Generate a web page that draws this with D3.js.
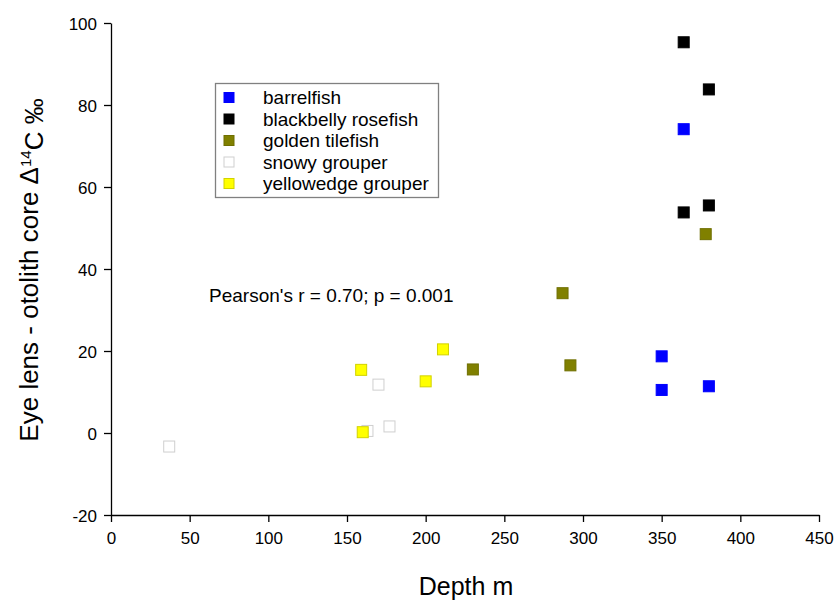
<!DOCTYPE html>
<html>
<head>
<meta charset="utf-8">
<script src="https://cdn.jsdelivr.net/npm/d3@7"></script>
<style>
  html, body { margin: 0; padding: 0; background: #fff; }
  svg { display: block; font-family: "Liberation Sans", Arial, sans-serif; }
</style>
</head>
<body>
<svg id="chart" width="834" height="600"></svg>
<script>
// ---- Data ----
const seriesNames = ["barrelfish", "blackbelly rosefish", "golden tilefish", "snowy grouper", "yellowedge grouper"];
const barrelfishDepth = [364, 350, 350, 380];
const barrelfishDelta = [74.1, 18.7, 10.5, 11.4];
const blackbellyDepth = [364, 380, 364, 380];
const blackbellyDelta = [95.3, 83.8, 53.8, 55.5];
const tilefishDepth = [378, 287, 292, 230];
const tilefishDelta = [48.5, 34.1, 16.5, 15.5];
const snowyDepth = [37, 170, 163, 177];
const snowyDelta = [-3.3, 11.8, 0.5, 1.6];
const yellowedgeDepth = [211, 159, 200, 160];
const yellowedgeDelta = [20.4, 15.4, 12.6, 0.2];
const xTicks = [0, 50, 100, 150, 200, 250, 300, 350, 400, 450];
const yTicks = [-20, 0, 20, 40, 60, 80, 100];
const annotation = "Pearson's r = 0.70; p = 0.001";

const fills = ["#0000ff", "#000000", "#808000", "#ffffff", "#ffff00"];
const strokes = ["#0000ff", "#000000", "#6f6f00", "#cfcfcf", "#d2d200"];

const series = [
  [barrelfishDepth, barrelfishDelta],
  [blackbellyDepth, blackbellyDelta],
  [tilefishDepth, tilefishDelta],
  [snowyDepth, snowyDelta],
  [yellowedgeDepth, yellowedgeDelta]
].map((s, i) => ({ name: seriesNames[i], fill: fills[i], stroke: strokes[i],
  pts: s[0].map((d, j) => ({ x: d, y: s[1][j] })) }));

// ---- Layout ----
const svg = d3.select("#chart");
const x = d3.scaleLinear().domain([0, 450]).range([111, 819]);
const y = d3.scaleLinear().domain([-20, 100]).range([515, 23]);

// axes
const fmt = d => String(d);
const xAxis = svg.append("g").attr("transform", "translate(0,515)")
  .call(d3.axisBottom(x).tickValues(xTicks).tickFormat(fmt).tickSize(7).tickSizeOuter(0).tickPadding(10));
const yAxis = svg.append("g").attr("transform", "translate(111,0)")
  .call(d3.axisLeft(y).tickValues(yTicks).tickFormat(fmt).tickSize(7).tickSizeOuter(0).tickPadding(7));
[xAxis, yAxis].forEach(g => {
  g.selectAll("path.domain").attr("stroke", "#000").attr("stroke-width", 1.3);
  g.selectAll(".tick line").attr("stroke", "#000").attr("stroke-width", 1.3);
  g.selectAll(".tick text").attr("fill", "#000")
    .style("font-family", "'Liberation Sans', Arial, sans-serif").style("font-size", "17px");
});
yAxis.selectAll(".tick text").attr("dy", "0.36em");

// axis titles
svg.append("text").attr("x", 466).attr("y", 595).attr("text-anchor", "middle")
  .style("font-size", "25px").text("Depth m");

const yt = svg.append("text").attr("transform", "translate(38,270) rotate(-90)")
  .attr("text-anchor", "middle").style("font-size", "26px");
yt.append("tspan").text("Eye lens - otolith core \u0394");
yt.append("tspan").attr("dy", "-0.45em").style("font-size", "15px").text("14");
yt.append("tspan").attr("dy", "0.45em").text("C \u2030");

// points
const ms = 11;
series.forEach(s => {
  svg.append("g").selectAll("rect").data(s.pts).join("rect")
    .attr("x", d => x(d.x) - ms / 2).attr("y", d => y(d.y) - ms / 2)
    .attr("width", ms).attr("height", ms)
    .attr("fill", s.fill).attr("stroke", s.stroke).attr("stroke-width", 1);
});

// annotation
svg.append("text").attr("x", 209).attr("y", 302).style("font-size", "19px").text(annotation);

// legend
const lg = svg.append("g");
lg.append("rect").attr("x", 215.5).attr("y", 83.5).attr("width", 223).attr("height", 114)
  .attr("fill", "#fff").attr("stroke", "#808080").attr("stroke-width", 1.3);
const rowY = d3.scaleLinear().domain([0, 4]).range([97.5, 183.5]);
series.forEach((s, i) => {
  lg.append("rect").attr("x", 224).attr("y", rowY(i) - 5).attr("width", 10).attr("height", 10)
    .attr("fill", s.fill).attr("stroke", s.stroke).attr("stroke-width", 1);
  lg.append("text").attr("x", 263).attr("y", rowY(i) + 6.5).style("font-size", "19px").text(s.name);
});
</script>
</body>
</html>
